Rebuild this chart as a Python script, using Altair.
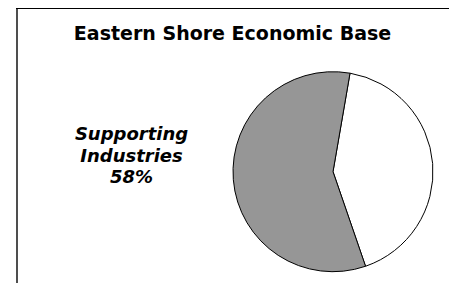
import math
import altair as alt
import pandas as pd

# ---- data ----
categories = ["Basic Industries", "Supporting Industries"]
shares = [42, 58]
slice_order = [1, 2]
slice_colors = ["#ffffff", "#969696"]

title_text = "Eastern Shore Economic Base"
label_lines = ["Supporting", "Industries", "58%"]

pie_df = pd.DataFrame({"category": categories, "share": shares, "order": slice_order})
title_df = pd.DataFrame({"t": [title_text]})
label_df = pd.DataFrame({"t": ["\n".join(label_lines)]})
one_df = pd.DataFrame({"k": [0]})

start = math.radians(9.8)

pie = alt.Chart(pie_df).mark_arc(
    outerRadius=100, stroke="black", strokeWidth=1, x=325, y=163.7
).encode(
    theta=alt.Theta("share:Q", stack=True,
                    scale=alt.Scale(domain=[0, 100], range=[start, start + 2 * math.pi])),
    color=alt.Color("category:N", scale=alt.Scale(domain=categories, range=slice_colors), legend=None),
    order=alt.Order("order:Q"),
)

title = alt.Chart(title_df).mark_text(
    font="DejaVu Sans", fontWeight="bold", fontSize=19, align="center",
    baseline="alphabetic", x=224.5, y=32, color="black"
).encode(text="t:N")

label = alt.Chart(label_df).mark_text(
    font="DejaVu Sans", fontWeight="bold", fontStyle="italic", fontSize=18,
    align="center", baseline="alphabetic", lineBreak="\n", lineHeight=21.7,
    x=123.5, y=132, color="black"
).encode(text="t:N")

left_line = alt.Chart(one_df).mark_rule(color="#222222", strokeWidth=1.6).encode(
    x=alt.value(9), y=alt.value(0), y2=alt.value(275)
)
top_line = alt.Chart(one_df).mark_rule(color="black", strokeWidth=1).encode(
    x=alt.value(8), x2=alt.value(441), y=alt.value(0.5)
)

chart = alt.layer(left_line, top_line, pie, title, label).properties(
    width=441, height=275, autosize=alt.AutoSizeParams(type="none"), padding=0
).configure_view(stroke=None)

chart.save("out.html", embed_options={"renderer": "svg", "actions": False})
